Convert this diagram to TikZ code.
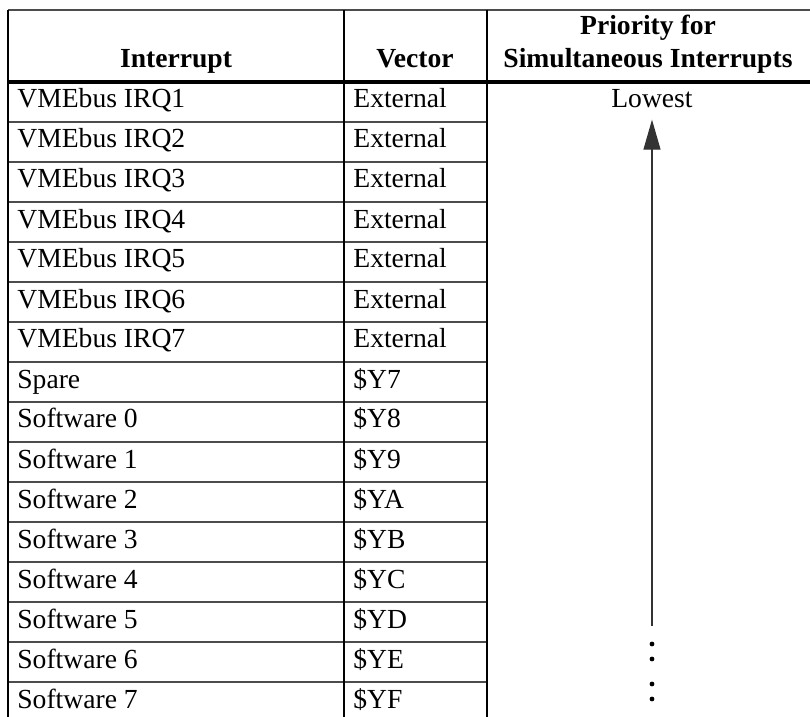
\documentclass[tikz,border=0pt]{standalone}
\usepackage{fontspec}
\setmainfont{Liberation Serif}
\usetikzlibrary{arrows.meta}
\tikzstyle{rowtext} = [anchor=base west, inner sep=0pt, font=\fontsize{13.8}{16}\selectfont]
\tikzstyle{headtext} = [anchor=base, inner sep=0pt, font=\fontsize{13.8}{16}\selectfont\bfseries]
\tikzstyle{rowrule} = [draw=black!70, line width=0.65pt]
\tikzstyle{colrule} = [draw=black, line width=0.65pt]
\tikzstyle{prioarrow} = [draw=black!80, line width=0.6pt, -{Triangle[length=15pt,width=8.5pt]}]

\begin{document}
\begin{tikzpicture}[x=0.5pt,y=-0.5pt]
\useasboundingbox (0,0) rectangle (810,717);
% header
\node[headtext] (hint) at (176,68) {Interrupt};
\node[headtext] (hvec) at (415,68) {Vector};
\node[headtext] (hprione) at (648,35) {Priority for};
\node[headtext] (hpritwo) at (648,68) {Simultaneous Interrupts};
% rows
\foreach \irq/\vect [count=\i from 0] in {VMEbus IRQ1/External, VMEbus IRQ2/External,
    VMEbus IRQ3/External, VMEbus IRQ4/External, VMEbus IRQ5/External,
    VMEbus IRQ6/External, VMEbus IRQ7/External, Spare/\$Y7,
    Software 0/\$Y8, Software 1/\$Y9, Software 2/\$YA, Software 3/\$YB,
    Software 4/\$YC, Software 5/\$YD, Software 6/\$YE, Software 7/\$YF} {
  \node[rowtext] (int\i) at (17,108+40*\i) {\irq};
  \node[rowtext] (vec\i) at (353,108+40*\i) {\vect};
}
% rules
\draw[rowrule] (8,10) -- (810,10);
\draw[line width=2pt] (8,82) -- (810,82);
\foreach \y in {122,162,...,682}
  \draw[rowrule] (8,\y) -- (487,\y);
\draw[colrule] (8,10) -- (8,717);
\draw[colrule] (344,10) -- (344,717);
\draw[colrule] (487,10) -- (487,717);
% priority
\node[rowtext, anchor=base] (low) at (652,108) {Lowest};
\coordinate (arrbot) at (652,626);
\draw[prioarrow, shorten >=5.5pt] (arrbot) -- (low.south);
\foreach \y in {644,659,684,699}
  \fill (652,\y) circle (1.2pt);
\end{tikzpicture}
\end{document}
